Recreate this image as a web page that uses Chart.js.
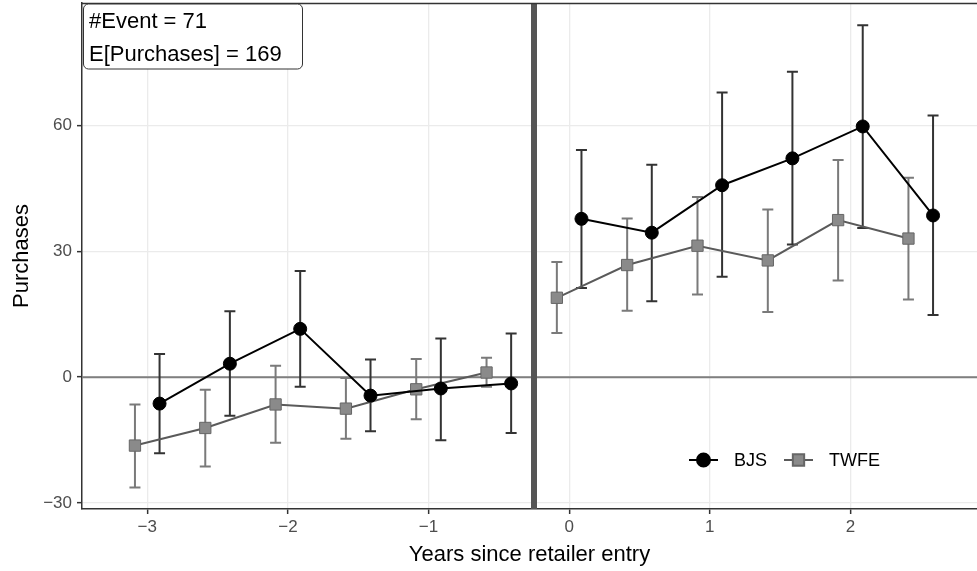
<!DOCTYPE html>
<html>
<head>
<meta charset="utf-8">
<script src="https://cdn.jsdelivr.net/npm/chart.js@4.4.0/dist/chart.umd.min.js"></script>
<style>
  html, body { margin: 0; padding: 0; background: #fff; }
  #wrap { width: 977px; height: 571px; }
</style>
</head>
<body>
<div id="wrap"><canvas id="eventChart" width="977" height="571"></canvas></div>
<script>
// Years relative to retailer entry
const eventTime = [-3, -2.5, -2, -1.5, -1, -0.5, 0, 0.5, 1, 1.5, 2, 2.5];

// BJS imputation estimates and 95% bounds
const bjsEst  = [-6.3, 3.2, 11.5, -4.4, -2.7, -1.5, 37.7, 34.4, 45.7, 52.1, 59.7, 38.5];
const bjsLow  = [-18.1, -9.2, -2.3, -12.9, -15.0, -13.3, 21.2, 18.1, 23.9, 31.6, 35.5, 14.8];
const bjsHigh = [5.5, 15.7, 25.3, 4.2, 9.2, 10.4, 54.1, 50.6, 67.8, 72.7, 83.8, 62.3];

// Two-way fixed effects estimates and 95% bounds
const twfeEst  = [-16.3, -12.1, -6.5, -7.5, -2.9, 1.1, 18.9, 26.7, 31.3, 27.8, 37.4, 33.0];
const twfeLow  = [-26.3, -21.3, -15.6, -14.7, -10.0, -2.3, 10.5, 15.8, 19.7, 15.5, 23.0, 18.5];
const twfeHigh = [-6.5, -3.0, 2.7, -0.2, 4.3, 4.6, 27.4, 37.8, 42.9, 39.9, 51.7, 47.5];

const xTicks = [-3, -2, -1, 0, 1, 2];
const yTicks = [-30, 0, 30, 60];
const boxLines = ['#Event = 71', 'E[Purchases] = 169'];
const entryLine = -0.25;
const dodge = 0.0875;

const FONT = '"Liberation Sans", Arial, Helvetica, sans-serif';
const BJS_COLOR = '#000000';
const TWFE_LINE = '#5a5a5a';

const toPoints = (est, shift) => eventTime.map((t, i) => ({ x: t + shift, y: est[i] }));

// no line across the entry date
const breakAtEntry = color => ctx =>
  (eventTime[ctx.p0DataIndex] < 0 && eventTime[ctx.p1DataIndex] >= 0) ? 'rgba(0,0,0,0)' : color;

const minus = v => String(v).replace('-', '\u2212');

const refAndIntervals = {
  id: 'refAndIntervals',
  beforeDatasetsDraw(chart) {
    const { ctx, chartArea: a, scales: { x, y } } = chart;
    ctx.save();
    // zero line
    const y0 = y.getPixelForValue(0);
    ctx.strokeStyle = '#7f7f7f';
    ctx.lineWidth = 2;
    ctx.beginPath();
    ctx.moveTo(a.left, y0);
    ctx.lineTo(a.right, y0);
    ctx.stroke();
    // entry marker
    const xe = x.getPixelForValue(entryLine);
    ctx.strokeStyle = '#555555';
    ctx.lineWidth = 6;
    ctx.beginPath();
    ctx.moveTo(xe, a.top);
    ctx.lineTo(xe, a.bottom);
    ctx.stroke();
    // confidence intervals
    const sets = [
      { low: twfeLow, high: twfeHigh, shift: -dodge, color: '#7a7a7a' },
      { low: bjsLow, high: bjsHigh, shift: dodge, color: '#333333' }
    ];
    ctx.lineWidth = 2;
    sets.forEach(s => {
      ctx.strokeStyle = s.color;
      eventTime.forEach((t, i) => {
        const px = x.getPixelForValue(t + s.shift);
        const lo = y.getPixelForValue(s.low[i]);
        const hi = y.getPixelForValue(s.high[i]);
        ctx.beginPath();
        ctx.moveTo(px, lo); ctx.lineTo(px, hi);
        ctx.moveTo(px - 5.5, lo); ctx.lineTo(px + 5.5, lo);
        ctx.moveTo(px - 5.5, hi); ctx.lineTo(px + 5.5, hi);
        ctx.stroke();
      });
    });
    ctx.restore();
  },
  afterDraw(chart) {
    const { ctx, chartArea: a } = chart;
    ctx.save();
    // panel top edge
    ctx.strokeStyle = '#333333';
    ctx.lineWidth = 1.5;
    ctx.beginPath();
    ctx.moveTo(a.left, a.top + 0.5);
    ctx.lineTo(a.right, a.top + 0.5);
    ctx.stroke();

    // annotation box
    const bx = 83.5, by = 4, bw = 219, bh = 65, r = 5;
    ctx.beginPath();
    ctx.moveTo(bx + r, by);
    ctx.lineTo(bx + bw - r, by);
    ctx.arcTo(bx + bw, by, bx + bw, by + r, r);
    ctx.lineTo(bx + bw, by + bh - r);
    ctx.arcTo(bx + bw, by + bh, bx + bw - r, by + bh, r);
    ctx.lineTo(bx + r, by + bh);
    ctx.arcTo(bx, by + bh, bx, by + bh - r, r);
    ctx.lineTo(bx, by + r);
    ctx.arcTo(bx, by, bx + r, by, r);
    ctx.closePath();
    ctx.fillStyle = '#ffffff';
    ctx.fill();
    ctx.strokeStyle = '#333333';
    ctx.lineWidth = 1;
    ctx.stroke();
    ctx.fillStyle = '#000000';
    ctx.font = '22px ' + FONT;
    ctx.textBaseline = 'alphabetic';
    ctx.textAlign = 'left';
    boxLines.forEach((line, i) => ctx.fillText(line, 89, 27.5 + i * 33.5));

    // legend
    const ly = 460;
    const keys = [
      { x: 689, label: 'BJS', ds: chart.data.datasets[0] },
      { x: 784, label: 'TWFE', ds: chart.data.datasets[1] }
    ];
    ctx.font = '18px ' + FONT;
    ctx.textBaseline = 'middle';
    keys.forEach(k => {
      ctx.strokeStyle = k.ds.borderColor;
      ctx.lineWidth = 2;
      ctx.beginPath();
      ctx.moveTo(k.x, ly);
      ctx.lineTo(k.x + 29, ly);
      ctx.stroke();
      ctx.fillStyle = k.ds.pointBackgroundColor;
      ctx.strokeStyle = k.ds.pointBorderColor;
      Chart.helpers.drawPoint(ctx, {
        pointStyle: k.ds.pointStyle,
        radius: k.ds.pointRadius,
        borderWidth: k.ds.pointBorderWidth,
        rotation: 0
      }, k.x + 14.5, ly);
      ctx.fillStyle = '#000000';
      ctx.fillText(k.label, k.x + 45, ly + 1);
    });
    ctx.restore();
  }
};

new Chart(document.getElementById('eventChart'), {
  type: 'scatter',
  data: {
    datasets: [
      {
        label: 'BJS',
        data: toPoints(bjsEst, dodge),
        showLine: true,
        borderColor: BJS_COLOR,
        borderWidth: 2,
        segment: { borderColor: breakAtEntry(BJS_COLOR) },
        pointStyle: 'circle',
        pointRadius: 6.5,
        pointBackgroundColor: '#000000',
        pointBorderColor: '#000000',
        pointBorderWidth: 1
      },
      {
        label: 'TWFE',
        data: toPoints(twfeEst, -dodge),
        showLine: true,
        borderColor: TWFE_LINE,
        borderWidth: 2,
        segment: { borderColor: breakAtEntry(TWFE_LINE) },
        pointStyle: 'rect',
        pointRadius: 8,
        pointBackgroundColor: '#8a8a8a',
        pointBorderColor: '#666666',
        pointBorderWidth: 1
      }
    ]
  },
  options: {
    responsive: false,
    animation: false,
    layout: { autoPadding: false, padding: { top: 3, right: 0, bottom: 0, left: 0 } },
    plugins: {
      legend: { display: false },
      tooltip: { enabled: false }
    },
    scales: {
      x: {
        type: 'linear',
        min: -3.464,
        max: 2.9,
        afterBuildTicks: s => { s.ticks = xTicks.map(v => ({ value: v })); },
        afterFit: s => { s.height = 62; s.paddingLeft = 0; s.paddingRight = 0; },
        grid: { color: '#ebebeb', lineWidth: 1.3, drawTicks: true, tickLength: 5, tickColor: '#333333', tickWidth: 1.5 },
        border: { display: true, color: '#333333', width: 1.5 },
        ticks: { color: '#4d4d4d', font: { family: FONT, size: 17 }, padding: 3, maxRotation: 0, autoSkip: false, callback: minus },
        title: { display: true, text: 'Years since retailer entry', color: '#000000', font: { family: FONT, size: 22 }, padding: { top: 0, bottom: 3 } }
      },
      y: {
        type: 'linear',
        min: -31.4,
        max: 89.1,
        afterBuildTicks: s => { s.ticks = yTicks.map(v => ({ value: v })); },
        afterFit: s => { s.width = 82; s.paddingTop = 0; s.paddingBottom = 0; },
        grid: { color: '#ebebeb', lineWidth: 1.3, drawTicks: true, tickLength: 5, tickColor: '#333333', tickWidth: 1.5 },
        border: { display: true, color: '#333333', width: 1.5 },
        ticks: { color: '#4d4d4d', font: { family: FONT, size: 17 }, padding: 5, autoSkip: false, callback: minus },
        title: { display: true, text: 'Purchases', color: '#000000', font: { family: FONT, size: 22 }, padding: { top: 9, bottom: 0 } }
      }
    }
  },
  plugins: [refAndIntervals]
});
</script>
</body>
</html>
